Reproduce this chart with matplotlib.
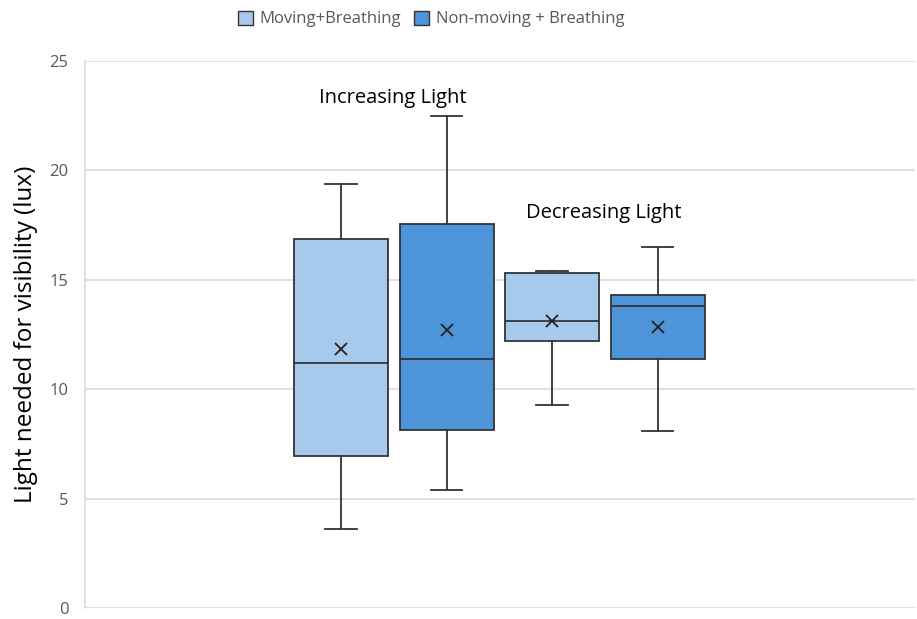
import numpy as np
import matplotlib.pyplot as plt
from matplotlib.patches import Patch

plt.rcParams['font.family'] = ['Open Sans', 'DejaVu Sans']

# five-number summaries + mean for each box (lux)
grupos = ['Moving+Breathing', 'Non-moving + Breathing', 'Moving+Breathing', 'Non-moving + Breathing']
minimo = [3.6, 5.4, 9.3, 8.1]
q1 = [6.95, 8.15, 12.2, 11.4]
mediana = [11.2, 11.4, 13.1, 13.8]
q3 = [16.85, 17.55, 15.3, 14.3]
maximo = [19.4, 22.5, 15.4, 16.5]
media = [11.85, 12.7, 13.1, 12.85]

cores = ['#A7C9EC', '#4E94D9', '#A7C9EC', '#4E94D9']
anotacoes = ['Increasing Light', 'Decreasing Light']

stats = []
for i in range(4):
    stats.append(dict(whislo=minimo[i], q1=q1[i], med=mediana[i], q3=q3[i],
                      whishi=maximo[i], mean=media[i], fliers=[]))

fig = plt.figure(figsize=(9.17, 6.19), dpi=100)
ax = fig.add_axes([85/917, 11/619, 830/917, 547/619])

posicoes = [1, 2, 3, 4]
bp = ax.bxp(stats, positions=posicoes, widths=0.89, patch_artist=True,
            showmeans=True, capwidths=0.3,
            boxprops=dict(edgecolor='#333333', linewidth=1.3),
            medianprops=dict(color='#333333', linewidth=1.3),
            whiskerprops=dict(color='#333333', linewidth=1.3),
            capprops=dict(color='#333333', linewidth=1.3),
            meanprops=dict(marker='x', markeredgecolor='#222222', markersize=9,
                           markeredgewidth=1.3))
for caixa, cor in zip(bp['boxes'], cores):
    caixa.set_facecolor(cor)

ax.set_xlim(-1.427, 6.44)
ax.set_ylim(0, 25)
ax.set_yticks([0, 5, 10, 15, 20, 25])
ax.set_xticks([])
ax.yaxis.grid(True, color='#d9d9d9', linewidth=1.2)
ax.set_axisbelow(True)
for lado in ['top', 'right', 'bottom']:
    ax.spines[lado].set_visible(False)
ax.spines['left'].set_color('#d9d9d9')
ax.spines['left'].set_linewidth(1.2)
ax.tick_params(axis='y', length=0, pad=12, labelsize=12, labelcolor='#595959')
ax.set_ylabel('Light needed for visibility (lux)', fontsize=17.5, labelpad=8)

ax.text(1.49, 23.3, anotacoes[0], ha='center', va='center', fontsize=14.5)
ax.text(3.49, 18.05, anotacoes[1], ha='center', va='center', fontsize=14.5)

legenda = [Patch(facecolor=cores[0], edgecolor='#333333', label=grupos[0]),
           Patch(facecolor=cores[1], edgecolor='#333333', label=grupos[1])]
leg = fig.legend(handles=legenda, loc='center', bbox_to_anchor=(431/917, 1 - 19/619),
                 ncol=2, frameon=False, fontsize=12, handlelength=0.9, handleheight=0.9,
                 handletextpad=0.4, columnspacing=0.8)
for t in leg.get_texts():
    t.set_color('#595959')

fig.savefig('out.png', dpi=100)
